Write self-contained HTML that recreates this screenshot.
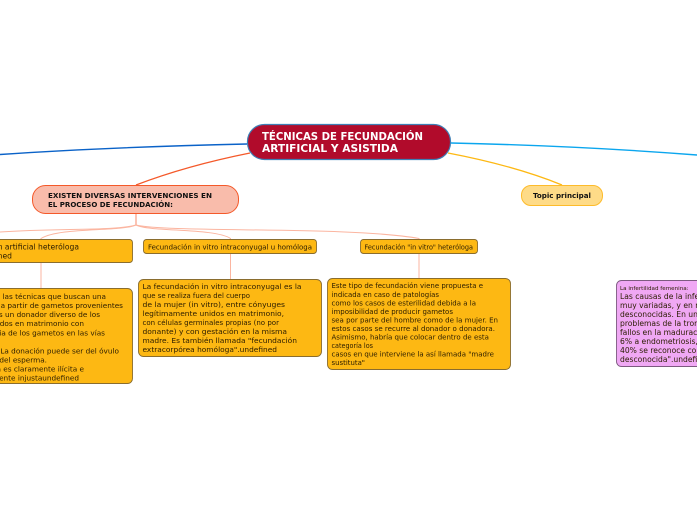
<!DOCTYPE html>
<html><head><meta charset="utf-8"><style>
html,body{margin:0;padding:0;background:#fff;width:697px;height:520px;overflow:hidden}
svg{display:block}
text{font-family:"DejaVu Sans",sans-serif;fill:#2a1c00;font-size:7.3px}
</style></head><body>
<svg width="697" height="520" viewBox="0 0 697 520" xmlns="http://www.w3.org/2000/svg">
<g fill="none">
<path d="M247 144 C160 146 80 149 0 154.500" stroke="#0a62c8" stroke-width="1.4"/>
<path d="M451 143 C540 145 620 149 697 155" stroke="#0ba6ee" stroke-width="1.4"/>
<path d="M250 153 C205 162 170 172 136 185" stroke="#f4592a" stroke-width="1.3"/>
<path d="M448 153 C490 161 530 172 562 185" stroke="#fdb813" stroke-width="1.3"/>
<path d="M136 214 V225" stroke="#f9a58c" stroke-width="1.3"/>
<path d="M136 225 C115 231 60 228 0 232" stroke="#fbb5a0" stroke-width="1"/>
<path d="M136 225 C120 232 60 227 41 238.500 V288" stroke="#fbb5a0" stroke-width="1"/>
<path d="M136 225 C150 232 215 228 230.500 238.500 V279" stroke="#fbb5a0" stroke-width="1"/>
<path d="M136 225 C170 233 350 226 419 238.500 V279" stroke="#fbb5a0" stroke-width="1"/>
</g>

<rect x="247.500" y="124.500" width="203" height="35" rx="17" fill="#b10b2b" stroke="#3f7fb5" stroke-width="1.2"/>
<text x="262" y="140" textLength="161" lengthAdjust="spacingAndGlyphs" style="font-size:10.2px;font-weight:bold;fill:#fff">TÉCNICAS DE FECUNDACIÓN</text>
<text x="262" y="152" textLength="136" lengthAdjust="spacingAndGlyphs" style="font-size:10.2px;font-weight:bold;fill:#fff">ARTIFICIAL Y ASISTIDA</text>

<rect x="32.500" y="185.500" width="206" height="28" rx="13" fill="#f9bcab" stroke="#f4592a" stroke-width="1"/>
<text x="48" y="198" textLength="164" lengthAdjust="spacingAndGlyphs" style="font-size:6.800px;font-weight:bold;fill:#111">EXISTEN DIVERSAS INTERVENCIONES EN</text>
<text x="48" y="207" textLength="125" lengthAdjust="spacingAndGlyphs" style="font-size:6.800px;font-weight:bold;fill:#111">EL PROCESO DE FECUNDACIÓN:</text>

<rect x="521.500" y="185.500" width="81" height="20" rx="9.500" fill="#fedb88" stroke="#fdbb2a" stroke-width="1"/>
<text x="533" y="198" textLength="58" lengthAdjust="spacingAndGlyphs" style="font-size:7px;font-weight:bold;fill:#111">Topic principal</text>

<g fill="#fdb813" stroke="#8a6d2e" stroke-width="0.9">
<rect x="-10" y="239.500" width="142.500" height="23" rx="3"/>
<rect x="143.500" y="239.500" width="173" height="14" rx="3"/>
<rect x="360.500" y="239.500" width="117" height="14" rx="3"/>
<rect x="-10" y="288.500" width="142.500" height="95" rx="5"/>
<rect x="138.500" y="279.500" width="183" height="77" rx="5"/>
<rect x="327.500" y="278.500" width="183" height="91" rx="5"/>
</g>
<rect x="616.500" y="280.500" width="100" height="86" rx="5" fill="#f0a8f4" stroke="#7d5a80" stroke-width="0.9"/>

<text x="79" y="249.500" text-anchor="end" style="font-size:7.600px">Fecundación artificial heteróloga</text>
<text x="12" y="258.500" text-anchor="end" style="font-size:7.600px">undefined</text>
<text x="148" y="249.500" textLength="164" lengthAdjust="spacingAndGlyphs">Fecundación in vitro intraconyugal u homóloga</text>
<text x="364.500" y="249.500" textLength="108.500" lengthAdjust="spacingAndGlyphs">Fecundación "in vitro" heteróloga</text>

<text x="106" y="299" text-anchor="end">Son las técnicas que buscan una</text>
<text x="123" y="308" text-anchor="end">concepción a partir de gametos provenientes</text>
<text x="100" y="317" text-anchor="end">de al menos un donador diverso de los</text>
<text x="84" y="326" text-anchor="end">esposos unidos en matrimonio con</text>
<text x="105" y="335.500" text-anchor="end">transferencia de los gametos en las vías</text>
<text x="119" y="353.500" text-anchor="end">genitales. La donación puede ser del óvulo</text>
<text x="47" y="362.500" text-anchor="end">o del esperma.</text>
<text x="84" y="371.500" text-anchor="end">Esta técnica es claramente ilícita e</text>
<text x="79" y="380.500" text-anchor="end">intrínsecamente injustaundefined</text>

<g style="--x:0">
<text x="142.500" y="289" textLength="159" lengthAdjust="spacingAndGlyphs">La fecundación in vitro intraconyugal es la</text>
<text x="142.500" y="298" textLength="107.500" lengthAdjust="spacingAndGlyphs">que se realiza fuera del cuerpo</text>
<text x="142.500" y="307" textLength="142.500" lengthAdjust="spacingAndGlyphs">de la mujer (in vitro), entre cónyuges</text>
<text x="142.500" y="316" textLength="141.500" lengthAdjust="spacingAndGlyphs">legítimamente unidos en matrimonio,</text>
<text x="142.500" y="325" textLength="136.500" lengthAdjust="spacingAndGlyphs">con células germinales propias (no por</text>
<text x="142.500" y="334" textLength="144.500" lengthAdjust="spacingAndGlyphs">donante) y con gestación en la misma</text>
<text x="142.500" y="343" textLength="154.500" lengthAdjust="spacingAndGlyphs">madre. Es también llamada "fecundación</text>
<text x="142.500" y="352" textLength="134.500" lengthAdjust="spacingAndGlyphs">extracorpórea homóloga".undefined</text>
</g>

<text x="331.500" y="288" textLength="151.500" lengthAdjust="spacingAndGlyphs">Este tipo de fecundación viene propuesta e</text>
<text x="331.500" y="297" textLength="107.500" lengthAdjust="spacingAndGlyphs">indicada en caso de patologías</text>
<text x="331.500" y="305.500" textLength="144.500" lengthAdjust="spacingAndGlyphs">como los casos de esterilidad debida a la</text>
<text x="331.500" y="314" textLength="121.500" lengthAdjust="spacingAndGlyphs">imposibilidad de producir gametos</text>
<text x="331.500" y="322.500" textLength="166.500" lengthAdjust="spacingAndGlyphs">sea por parte del hombre como de la mujer. En</text>
<text x="331.500" y="331" textLength="163.500" lengthAdjust="spacingAndGlyphs">estos casos se recurre al donador o donadora.</text>
<text x="331.500" y="339.500" textLength="157.500" lengthAdjust="spacingAndGlyphs">Asimismo, habría que colocar dentro de esta</text>
<text x="331.500" y="348" textLength="41.500" lengthAdjust="spacingAndGlyphs">categoría los</text>
<text x="331.500" y="356.500" textLength="162.500" lengthAdjust="spacingAndGlyphs">casos en que interviene la así llamada "madre</text>
<text x="331.500" y="365" textLength="33.500" lengthAdjust="spacingAndGlyphs">sustituta"</text>

<text x="620" y="290" style="font-size:5.600px">La infertilidad femenina:</text>
<g style="font-size:7.600px">
<text x="620" y="299" style="font-size:7.600px">Las causas de la infertilidad femenina son</text>
<text x="620" y="308" style="font-size:7.600px">muy variadas, y en muchos casos</text>
<text x="620" y="317" style="font-size:7.600px">desconocidas. En un 40% se deben a</text>
<text x="620" y="326" style="font-size:7.600px">problemas de la trompa, un 20% a</text>
<text x="620" y="335" style="font-size:7.600px">fallos en la maduración del óvulo, un</text>
<text x="620" y="344" style="font-size:7.600px">6% a endometriosis, y en torno al</text>
<text x="620" y="353" style="font-size:7.600px">40% se reconoce como de causa</text>
<text x="620" y="362" style="font-size:7.600px">desconocida".undefined</text>
</g>
</svg>
</body></html>
